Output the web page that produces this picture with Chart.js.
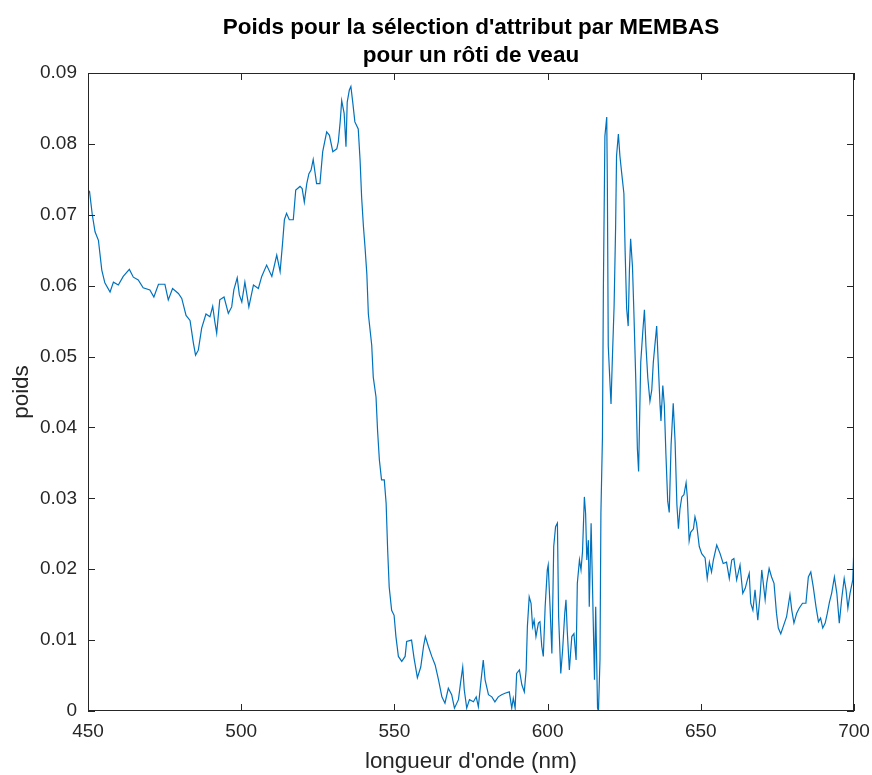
<!DOCTYPE html>
<html>
<head>
<meta charset="utf-8">
<script src="https://cdn.jsdelivr.net/npm/chart.js@4.4.1/dist/chart.umd.min.js"></script>
<style>
  body { margin: 0; background: #fff; }
  #wrap { width: 872px; height: 775px; }
</style>
</head>
<body>
<div id="wrap"><canvas id="poids" width="872" height="775"></canvas></div>
<script>
// longueurs d'onde (nm) et poids
const longueurs = [
    450.0, 450.5, 451.4, 452.3, 453.4, 454.5, 455.5, 457.2, 458.3, 459.9,
    461.5, 463.5, 464.8, 466.4, 468.0, 470.2, 471.5, 473.0, 475.1, 476.2,
    477.6, 479.5, 480.6, 482.0, 483.3, 484.4, 485.1, 486.0, 487.1, 488.5,
    489.8, 490.7, 491.4, 492.0, 493.0, 494.4, 495.8, 496.9, 497.6, 498.7,
    499.4, 500.2, 501.2, 502.5, 504.0, 505.6, 506.7, 508.3, 510.0, 511.6,
    512.7, 513.5, 514.1, 514.8, 515.7, 517.0, 517.8, 519.2, 519.9, 520.6,
    521.4, 522.1, 522.8, 523.5, 524.6, 525.7, 526.6, 527.9, 528.8, 529.9,
    531.2, 531.7, 532.3, 532.8, 533.6, 534.2, 534.6, 535.3, 535.8, 536.4,
    537.1, 538.2, 538.8, 539.3, 539.9, 540.4, 541.0, 541.5, 542.6, 543.1,
    544.0, 544.5, 545.1, 545.8, 546.7, 547.3, 547.8, 548.3, 549.1, 549.9,
    550.5, 551.3, 552.4, 553.5, 554.0, 555.6, 556.4, 557.5, 558.6, 559.5,
    560.1, 561.1, 562.2, 563.3, 564.4, 565.5, 566.5, 567.6, 568.7, 569.6,
    570.9, 571.6, 572.3, 572.8, 573.6, 574.5, 575.8, 576.7, 577.4, 578.2,
    579.0, 579.6, 580.7, 581.8, 582.8, 583.9, 585.0, 586.1, 587.5, 588.3,
    588.8, 589.4, 589.9, 590.8, 591.6, 592.4, 593.0, 593.4, 594.0, 594.6,
    595.1, 595.6, 596.2, 597.0, 597.5, 598.1, 598.6, 599.2, 599.9, 600.2,
    600.8, 601.4, 602.0, 602.6, 603.2, 603.6, 604.3, 604.9, 605.6, 606.0,
    606.4, 607.1, 607.9, 608.6, 609.3, 609.7, 610.4, 610.9, 611.4, 612.0,
    612.4, 612.8, 613.3, 613.6, 614.2, 614.7, 615.3, 615.7, 616.3, 616.6,
    617.1, 617.4, 617.9, 618.2, 618.7, 619.3, 619.5, 619.8, 620.4, 620.7,
    621.1, 621.7, 622.2, 622.5, 623.1, 623.6, 624.2, 624.9, 625.3, 625.8,
    626.3, 626.7, 627.1, 627.7, 628.2, 628.8, 629.3, 629.7, 630.0, 630.4,
    631.1, 631.6, 632.1, 632.7, 633.4, 634.0, 634.5, 635.1, 635.6, 636.1,
    636.7, 637.0, 637.6, 638.1, 638.6, 639.2, 639.7, 640.3, 641.0, 641.6,
    642.2, 642.7, 643.2, 643.8, 644.5, 645.2, 645.6, 646.2, 646.7, 647.6,
    648.1, 648.6, 649.5, 650.3, 651.4, 652.1, 652.8, 653.5, 654.1, 655.2,
    656.3, 657.3, 658.4, 659.3, 660.1, 660.8, 661.7, 662.8, 663.7, 664.5,
    665.2, 665.8, 666.3, 667.0, 667.7, 668.6, 669.4, 669.9, 670.4, 671.0,
    671.5, 672.3, 673.1, 673.9, 674.7, 675.3, 676.1, 676.9, 678.0, 679.1,
    679.7, 680.4, 681.3, 682.1, 683.2, 684.3, 685.1, 685.9, 686.7, 687.6,
    688.4, 689.1, 689.8, 690.6, 691.3, 692.0, 692.7, 693.6, 694.4, 695.2,
    696.0, 696.8, 697.4, 698.0, 698.7, 699.6, 700.0
];

const poids = [
    0.0731, 0.0733, 0.0700, 0.0676, 0.0664, 0.0622, 0.0604, 0.0591, 0.0605, 0.0601,
    0.0613, 0.0623, 0.0612, 0.0608, 0.0597, 0.0594, 0.0584, 0.0602, 0.0602, 0.0580,
    0.0596, 0.0589, 0.0582, 0.0558, 0.0551, 0.0519, 0.0502, 0.0509, 0.0540, 0.0560,
    0.0556, 0.0571, 0.0549, 0.0533, 0.0580, 0.0584, 0.0561, 0.0570, 0.0594, 0.0611,
    0.0587, 0.0577, 0.0605, 0.0570, 0.0601, 0.0596, 0.0613, 0.0629, 0.0613, 0.0643,
    0.0620, 0.0660, 0.0693, 0.0702, 0.0693, 0.0693, 0.0735, 0.0740, 0.0737, 0.0718,
    0.0744, 0.0758, 0.0763, 0.0778, 0.0744, 0.0744, 0.0789, 0.0817, 0.0812, 0.0789,
    0.0793, 0.0803, 0.0831, 0.0861, 0.0843, 0.0796, 0.0859, 0.0876, 0.0881, 0.0859,
    0.0831, 0.0821, 0.0777, 0.0725, 0.0683, 0.0655, 0.0617, 0.0560, 0.0516, 0.0471,
    0.0443, 0.0396, 0.0354, 0.0326, 0.0326, 0.0293, 0.0227, 0.0175, 0.0142, 0.0135,
    0.0105, 0.0077, 0.0070, 0.0077, 0.0098, 0.0100, 0.0075, 0.0047, 0.0062, 0.0091,
    0.0105, 0.0091, 0.0077, 0.0065, 0.0044, 0.0020, 0.0011, 0.0032, 0.0023, 0.0004,
    0.0016, 0.0040, 0.0062, 0.0030, 0.0004, 0.0016, 0.0013, 0.0020, 0.0006, 0.0040,
    0.0072, 0.0044, 0.0023, 0.0020, 0.0013, 0.0020, 0.0023, 0.0025, 0.0027, 0.0004,
    0.0018, 0.0004, 0.0053, 0.0058, 0.0037, 0.0027, 0.0058, 0.0119, 0.0161, 0.0152,
    0.0119, 0.0128, 0.0105, 0.0124, 0.0126, 0.0091, 0.0077, 0.0147, 0.0199, 0.0206,
    0.0147, 0.0081, 0.0232, 0.0260, 0.0265, 0.0133, 0.0053, 0.0086, 0.0138, 0.0157,
    0.0114, 0.0058, 0.0105, 0.0109, 0.0072, 0.0180, 0.0213, 0.0199, 0.0225, 0.0302,
    0.0279, 0.0213, 0.0241, 0.0147, 0.0265, 0.0166, 0.0044, 0.0147, 0.0004, 0.0000,
    0.0073, 0.0280, 0.0386, 0.0593, 0.0811, 0.0838, 0.0744, 0.0515, 0.0459, 0.0433,
    0.0492, 0.0571, 0.0683, 0.0783, 0.0814, 0.0783, 0.0758, 0.0730, 0.0649, 0.0568,
    0.0543, 0.0621, 0.0666, 0.0627, 0.0557, 0.0464, 0.0370, 0.0338, 0.0406, 0.0492,
    0.0537, 0.0566, 0.0515, 0.0470, 0.0437, 0.0453, 0.0492, 0.0520, 0.0543, 0.0492,
    0.0431, 0.0409, 0.0459, 0.0431, 0.0364, 0.0296, 0.0280, 0.0375, 0.0434, 0.0381,
    0.0291, 0.0257, 0.0285, 0.0302, 0.0305, 0.0322, 0.0302, 0.0240, 0.0252, 0.0257,
    0.0274, 0.0265, 0.0232, 0.0222, 0.0216, 0.0187, 0.0210, 0.0196, 0.0213, 0.0234,
    0.0222, 0.0208, 0.0210, 0.0187, 0.0213, 0.0215, 0.0185, 0.0206, 0.0166, 0.0173,
    0.0185, 0.0194, 0.0152, 0.0142, 0.0171, 0.0128, 0.0166, 0.0199, 0.0180, 0.0157,
    0.0180, 0.0201, 0.0189, 0.0180, 0.0138, 0.0117, 0.0109, 0.0119, 0.0133, 0.0164,
    0.0142, 0.0124, 0.0138, 0.0145, 0.0152, 0.0152, 0.0189, 0.0196, 0.0175, 0.0147,
    0.0126, 0.0131, 0.0117, 0.0124, 0.0138, 0.0154, 0.0166, 0.0189, 0.0166, 0.0124,
    0.0159, 0.0187, 0.0171, 0.0145, 0.0166, 0.0185, 0.0234
];

const xTicks = [450, 500, 550, 600, 650, 700];
const yTicks = [0, 0.01, 0.02, 0.03, 0.04, 0.05, 0.06, 0.07, 0.08, 0.09];

const police = 'Liberation Sans, Arial, Helvetica, sans-serif';
const gris = '#262626';

// cadre complet + graduations vers l'intérieur (style MATLAB)
const cadre = {
    id: 'cadre',
    afterDraw(chart) {
        const ctx = chart.ctx;
        const a = chart.chartArea;
        const sx = chart.scales.x, sy = chart.scales.y;
        const L = 7;
        ctx.save();
        ctx.strokeStyle = gris;
        ctx.lineWidth = 1;
        ctx.strokeRect(a.left + 0.5, a.top + 0.5, a.right - a.left - 1, a.bottom - a.top - 1);
        ctx.beginPath();
        xTicks.forEach(v => {
            const px = Math.round(sx.getPixelForValue(v)) + 0.5;
            ctx.moveTo(px, a.bottom); ctx.lineTo(px, a.bottom - L);
            ctx.moveTo(px, a.top); ctx.lineTo(px, a.top + L);
        });
        yTicks.forEach(v => {
            const py = Math.round(sy.getPixelForValue(v)) + 0.5;
            ctx.moveTo(a.left, py); ctx.lineTo(a.left + L, py);
            ctx.moveTo(a.right, py); ctx.lineTo(a.right - L, py);
        });
        ctx.stroke();
        ctx.restore();
    }
};

const ctx = document.getElementById('poids').getContext('2d');

let graphe = new Chart(ctx, {
    type: 'line',
    data: {
        datasets: [{
            data: longueurs.map((x, i) => ({ x: x, y: poids[i] })),
            borderColor: '#0072BD',
            borderWidth: 1.2,
            pointRadius: 0,
            tension: 0,
            fill: false
        }]
    },
    options: {
        responsive: false,
        animation: false,
        layout: { padding: { left: 0, right: 18, top: 0, bottom: 0 } },
        plugins: {
            legend: { display: false },
            tooltip: { enabled: false },
            title: {
                display: true,
                fullSize: false,
                text: ["Poids pour la sélection d'attribut par MEMBAS", 'pour un rôti de veau'],
                color: '#000',
                font: { family: police, size: 22.5, weight: 'bold', lineHeight: '28px' },
                padding: { top: 14, bottom: 3 }
            }
        },
        scales: {
            x: {
                type: 'linear',
                min: 450,
                max: 700,
                afterFit: s => { s.height = 64; s.paddingLeft = 0; s.paddingRight = 0; },
                afterBuildTicks: s => { s.ticks = xTicks.map(v => ({ value: v })); },
                grid: { display: false, drawTicks: false },
                border: { display: false },
                ticks: { color: gris, font: { family: police, size: 19 }, padding: 9, maxRotation: 0 },
                title: {
                    display: true,
                    text: "longueur d'onde (nm)",
                    color: gris,
                    font: { family: police, size: 22.4 },
                    padding: 0
                }
            },
            y: {
                min: 0,
                max: 0.09,
                afterFit: s => { s.width = 88; },
                afterBuildTicks: s => { s.ticks = yTicks.map(v => ({ value: v })); },
                grid: { display: false, drawTicks: false },
                border: { display: false },
                ticks: {
                    color: gris,
                    font: { family: police, size: 19 },
                    padding: 11,
                    callback: v => v === 0 ? '0' : v.toFixed(2)
                },
                title: {
                    display: true,
                    text: 'poids',
                    color: gris,
                    font: { family: police, size: 22.4 },
                    padding: { top: 8, bottom: 0 }
                }
            }
        }
    },
    plugins: [cadre]
});
</script>
</body>
</html>
